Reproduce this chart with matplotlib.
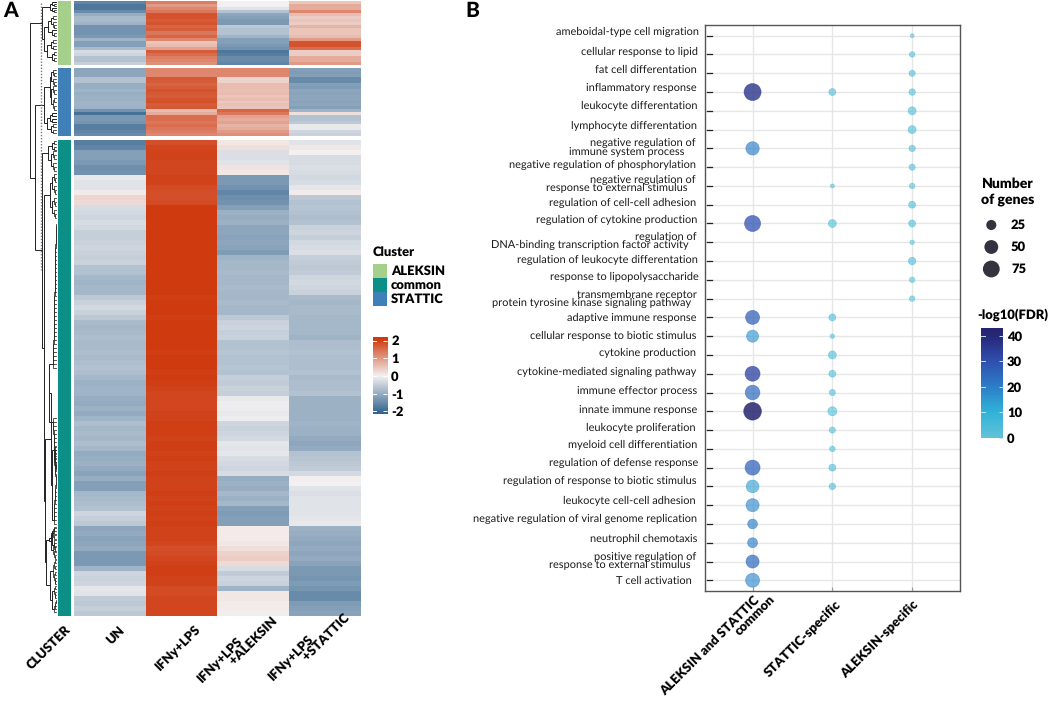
import matplotlib
matplotlib.use("Agg")
import matplotlib.pyplot as plt
import numpy as np
from matplotlib.colors import LinearSegmentedColormap, ListedColormap, to_rgba
from matplotlib.transforms import Affine2D

W, H = 1052, 704
plt.rcParams['font.family'] = ['Lato', 'DejaVu Sans']
plt.rcParams['text.hinting'] = 'no_hinting'
plt.rcParams['text.hinting_factor'] = 1
BOLD = 'heavy'

# ---------- heatmap data (z-scores) ----------
CONDITIONS = ["UN", "IFNy+LPS", "IFNy+LPS\n\u00a0\u00a0\u00a0\u00a0\u00a0\u00a0\u00a0\u00a0\u00a0\u00a0\u00a0\u00a0+ALEKSIN", "IFNy+LPS\n\u00a0\u00a0\u00a0\u00a0\u00a0\u00a0\u00a0\u00a0\u00a0\u00a0\u00a0\u00a0\u00a0+STATTIC"]
CLUSTER_NAMES = ["ALEKSIN", "common", "STATTIC"]
CLUSTER_COLORS = ["#a5d08b", "#0b8f86", "#3f80b8"]

aleksin_un = [-1.6,-1.8,-1.8,-1.5,-1.0,-0.8,-0.8,-0.9,-1.4,-1.4,-1.4,-1.3,-0.9,-1.2,-1.2,-0.8,-0.3,-0.4,-0.7,-0.7,-0.5]
aleksin_lps = [1.3,1.0,1.2,1.4,1.8,1.8,1.7,1.8,1.6,1.7,1.4,1.6,1.2,0.5,0.6,0.9,1.7,1.5,1.3,1.2,1.1]
aleksin_ale = [0.0,0.0,-0.2,-0.7,-1.1,-1.2,-1.3,-1.3,-0.6,-0.7,-0.7,-0.9,-1.2,-1.2,-1.3,-1.4,-1.8,-1.7,-1.5,-1.5,-1.6]
aleksin_sta = [0.5,0.8,0.8,1.2,0.6,0.4,0.5,0.4,0.7,0.5,0.5,0.6,1.0,1.8,1.8,1.5,0.4,0.4,0.8,0.8,1.0]

stattic_un = [-1.1,-1.1,-1.1,-0.7,-0.7,-1.0,-1.0,-0.9,-1.0,-0.95,-0.95,-0.9,-0.9,-0.95,-1.4,-1.9,-1.3,-1.3,-1.35,-1.7,-1.7,-1.6,-1.5]
stattic_lps = [1.2,1.2,1.2,1.75,1.7,1.6,1.7,1.8,1.75,1.7,1.8,1.85,1.7,1.75,0.6,0.8,1.5,1.5,1.4,1.5,1.4,1.3,1.2]
stattic_ale = [1.2,1.2,1.2,0.3,0.35,0.6,0.6,0.55,0.6,0.5,0.6,0.45,0.55,0.5,1.6,1.4,0.9,0.8,0.9,0.7,0.8,1.0,1.1]
stattic_sta = [-1.2,-1.25,-1.2,-1.5,-1.5,-1.2,-1.25,-1.1,-1.15,-1.1,-1.1,-1.15,-1.1,-1.2,-0.9,0.2,-0.7,-0.7,-0.6,-0.1,-0.1,-0.4,-0.45]

common_un = [-1.7,-1.6,-1.2,-1.2,-1.3,-1.45,-1.4,-0.1,-0.2,-0.2,0.05,0.3,0.25,-0.3,-0.35,-0.4,-0.3,-0.35,-0.5,-0.5,
 -0.45,-0.4,-0.45,-0.5,-0.45,-0.7,-0.7,-0.85,-0.9,-0.85,-0.85,-0.6,-0.45,-0.35,-0.45,-0.6,-0.8,-0.85,-0.8,-0.75,
 -0.8,-0.8,-0.75,-0.8,-0.75,-0.7,-0.75,-0.85,-0.95,-0.9,-0.9,-1.0,-1.05,-0.95,-1.05,-0.9,-0.75,-0.85,-0.8,-0.85,
 -0.75,-0.85,-1.05,-1.0,-0.95,-1.05,-1.15,-1.0,-1.2,-1.2,-0.85,-0.8,-0.75,-0.7,-0.4,-0.5,-0.6,-1.1,-1.05,-1.15,
 -1.1,-1.05,-1.3,-1.3,-1.3,-0.9,-0.4,-0.45,-0.4,-0.15,-0.2,-0.55,-0.6,-0.5,-0.6]
common_lps = [1.85,1.95,2.0,2.0,1.95,1.95,1.95,2.0,2.0,1.9,1.85,1.85,1.9,2.1,2.1,2.1,2.1,2.1,2.1,2.1,
 2.1,2.1,2.1,2.1,2.1,2.1,2.1,2.1,2.1,2.1,2.1,2.05,2.1,2.1,2.1,2.05,2.1,2.1,2.1,2.1,
 2.1,2.1,2.05,2.1,2.1,2.1,2.05,2.1,2.05,2.0,1.95,1.95,1.95,1.95,2.0,2.0,2.05,2.05,2.05,2.0,
 2.05,2.05,2.0,2.05,2.0,2.0,2.05,2.0,2.0,2.0,2.05,2.0,2.05,2.0,2.05,2.0,2.05,2.0,2.0,2.0,
 1.95,1.85,1.9,1.95,2.0,2.05,2.05,2.0,2.0,1.9,1.9,1.95,1.95,1.95,1.95]
common_ale = [0.1,0.2,-0.25,-0.25,-0.2,0.15,0.1,-1.3,-1.3,-1.4,-1.6,-1.45,-1.4,-1.2,-0.95,-1.0,-0.95,-1.1,-1.1,-1.15,
 -1.1,-1.15,-1.25,-0.9,-0.85,-0.85,-0.8,-0.85,-0.85,-0.8,-0.85,-0.85,-0.8,-0.85,-0.85,-0.6,-0.45,-0.4,-0.5,-0.45,
 -0.7,-0.7,-0.65,-0.7,-0.7,-0.65,-0.7,-0.5,-0.55,-0.45,-0.5,-0.1,-0.05,-0.05,-0.1,-0.05,-0.4,-0.45,-0.4,-0.35,
 -0.15,-0.2,-0.15,-0.3,-0.35,-0.4,-0.3,-1.0,-0.95,-1.0,-0.85,-0.95,-0.85,-1.2,-1.25,-1.2,-1.2,0.05,0.05,0.05,
 0.1,0.2,0.35,0.4,0.25,-0.3,-0.55,-0.4,-0.45,-0.9,0.1,0.1,0.05,0.05,-0.02]
common_sta = [-0.2,0.1,0.0,-0.3,-0.3,-0.25,-0.3,-0.35,-0.3,-0.15,0.05,-0.6,-0.7,-0.65,-0.7,-0.75,-0.7,-0.45,-0.4,-0.5,
 -0.35,-0.3,-0.25,-0.5,-0.55,-0.6,-0.55,-0.4,-0.35,-0.4,-0.45,-0.8,-0.85,-0.8,-0.8,-0.85,-0.85,-0.85,-0.85,-0.9,
 -0.75,-0.75,-0.7,-0.75,-0.75,-0.75,-0.7,-0.8,-0.75,-0.75,-0.7,-0.95,-0.95,-0.95,-0.95,-0.95,-0.9,-0.95,-0.95,-1.05,
 -1.1,-1.05,-0.7,-0.65,-0.6,-0.55,-0.35,0.03,0.0,-0.2,-0.25,-0.2,-0.2,-0.2,-0.2,-0.15,-0.1,-0.95,-1.0,-1.05,
 -1.1,-1.05,-1.1,-1.05,-1.15,-1.3,-1.3,-1.35,-1.25,-1.35,-1.5,-1.5,-1.25,-1.2,-1.15]

# ---------- dot plot data ----------
TERMS = ["ameboidal-type cell migration", "cellular response to lipid", "fat cell differentation",
 "inflammatory response", "leukocyte differentation", "lymphocyte differentation",
 "negative regulation of\nimmune system process\u00a0\u00a0\u00a0\u00a0", "negative regulation of phosphorylation",
 "negative regulation of\nresponse to external stimulus\u00a0\u00a0\u00a0", "regulation of cell-cell adhesion",
 "regulation of cytokine production", "regulation of\nDNA-binding transcription factor activity\u00a0\u00a0\u00a0",
 "regulation of leukocyte differentation", "response to lipopolysaccharide",
 "transmembrane receptor\nprotein tyrosine kinase signaling pathway\u00a0\u00a0",
 "adaptive immune response", "cellular response to biotic stimulus", "cytokine production",
 "cytokine-mediated signaling pathway", "immune effector process", "innate immune response",
 "leukocyte proliferation", "myeloid cell differentiation", "regulation of defense response",
 "regulation of response to biotic stimulus", "leukocyte cell-cell adhesion",
 "negative regulation of viral genome replication", "neutrophil chemotaxis",
 "positive regulation of\nresponse to external stimulus\u00a0\u00a0", "T cell activation"]
GROUPS = ["ALEKSIN and STATTIC\u00a0\u00a0\u00a0\u00a0\ncommon", "STATTIC-specific", "ALEKSIN-specific"]

# genes per term for each group (None: term absent)
genes_common = [None,None,None,77,None,None,46,None,None,None,68,None,None,None,None,
 51,37,None,59,56,84,None,None,59,41,44,23,24,44,51]
genes_stattic = [None,None,None,10,None,None,None,None,1,None,14,None,None,None,None,
 10,2,14,10,7,19,7,5,10,8,None,None,None,None,None]
genes_aleksin = [1,5,7,8,14,14,8,7,5,10,10,2,12,5,5,
 None,None,None,None,None,None,None,None,None,None,None,None,None,None,None]
fdr_common = [0,0,0,37,0,0,20,0,0,0,30,0,0,0,0,27,16,0,33,25,43,0,0,27,14,18,20,20,25,18]
fdr_stattic = [0,0,0,7,0,0,0,0,5,0,7,0,0,0,0,7,5,7,7,6,7,6,6,7,7,0,0,0,0,0]
fdr_aleksin = [4,5,6,6,7,7,6,6,5,7,7,4,7,5,5,0,0,0,0,0,0,0,0,0,0,0,0,0,0,0]

SIZE_LEGEND = [25, 50, 75]
FDR_TICKS = [0, 10, 20, 30, 40]
Z_TICKS = [-2, -1, 0, 1, 2]

# ---------- helpers ----------
fig = plt.figure(figsize=(W/100, H/100), dpi=100, facecolor='white')

def px_axes(x0, y0, x1, y1, **kw):
    return fig.add_axes([x0/W, 1-y1/H, (x1-x0)/W, (y1-y0)/H], **kw)

def ftext(x, y, s, **kw):
    return fig.text(x/W, 1-y/H, s, **kw)

def shift(label, dx, dy):
    label.set_transform(label.get_transform() + Affine2D().translate(dx, -dy))

zmap = LinearSegmentedColormap.from_list('z', [(0, '#33648f'), (0.5, '#f3f1f1'), (1, '#cf3a0f')])
ZMIN, ZMAX = -2.1, 2.1
fdrmap = LinearSegmentedColormap.from_list('f', [(0, '#62c3d8'), (10/43, '#30b3d8'), (20/43, '#2d7ec8'),
                                                  (30/43, '#2f50b0'), (40/43, '#28287a'), (1, '#25256e')])

# ---------- panel A: heatmap ----------
blocks = [((1, 64.7), 0, [aleksin_un, aleksin_lps, aleksin_ale, aleksin_sta]),
          ((68.3, 136.3), 2, [stattic_un, stattic_lps, stattic_ale, stattic_sta]),
          ((140, 615.7), 1, [common_un, common_lps, common_ale, common_sta])]
clmap = ListedColormap(CLUSTER_COLORS)
for i, ((top, bot), k, cols) in enumerate(blocks):
    ann = px_axes(58, top, 70.7, bot)
    ann.imshow([[k]], cmap=clmap, vmin=0, vmax=2, aspect='auto')
    ax = px_axes(74, top, 360.5, bot)
    m = np.array(cols).T
    ax.imshow(m, cmap=zmap, vmin=ZMIN, vmax=ZMAX, aspect='auto', interpolation='nearest',
              extent=(-0.5, 3.5, m.shape[0]-0.5, -0.5))
    for sp in list(ax.spines.values()) + list(ann.spines.values()):
        sp.set_visible(False)
    ann.set_yticks([]); ax.set_yticks([])
    if i < 2:
        ax.set_xticks([]); ann.set_xticks([])
    else:
        ann.set_xticks([0], ["CLUSTER"])
        ax.set_xticks(range(4), CONDITIONS)
        for a in (ann, ax):
            a.tick_params(axis='x', length=0, pad=0, labelsize=9.6)
        for lab in ann.get_xticklabels() + ax.get_xticklabels():
            lab.set_fontweight(BOLD)
            lab.set_rotation(45)
            lab.set_rotation_mode('anchor')
            lab.set_ha('right'); lab.set_va('top')
        labs = ax.get_xticklabels()
        shift(ann.get_xticklabels()[0], 0, 8)
        shift(labs[0], 8, 8)
        shift(labs[1], 12, 8)
        for lab in labs[2:]:
            lab.set_ha('center'); lab.set_va('center'); lab.set_multialignment('left')
            lab.set_linespacing(0.85)
        shift(labs[2], 237-252.9, 34)
        shift(labs[3], 308-324.5, 32)

# ---------- dendrogram ----------
def bal(h, ys):
    ys = list(ys)
    if len(ys) == 1:
        return ys[0]
    m = len(ys)//2
    return (h, bal(h*0.6, ys[:m]), bal(h*0.6, ys[m:]))

def comb(h, ys):
    ys = list(ys)
    node = ys[0]
    for j, y in enumerate(ys[1:]):
        node = (h*(j+1)/(len(ys)-1), node, y)
    return node

C1 = (14, bal(6, range(2, 14, 2)),
      (12, (8, bal(5, range(16, 30, 3)), bal(4, range(30, 38, 3))),
           (9, bal(5, range(40, 50, 3)), bal(4, range(52, 64, 3)))))
C2 = (12, (6, bal(5, range(70, 86, 3)), bal(5, range(86, 112, 4))),
      (9, bal(6, range(113, 124, 3)), bal(5, range(124, 136, 3))))
N543 = (7, bal(5, range(527, 560, 4)), bal(4, range(528, 556, 6)))
N583 = (6, bal(3, range(560, 586, 3)), (4, bal(2.5, range(586, 601, 3)), comb(2, range(600, 615, 3))))
A = (7, comb(3, range(224, 372, 4)), comb(3, range(470, 416, -4)))
B = (4.5, comb(2.5, range(480, 445, -3)), comb(2.5, range(480, 527, 4)))
N432 = (5, A, B)
N497 = (11, N432, (10, N543, N583))
T1 = (8, bal(4, range(141, 152, 3)), bal(5, range(151, 172, 4)))
T2 = (12.5, bal(6, range(174, 222, 4)), N497)
C3 = (14, T1, T2)
TREE = (26, C1, (21, C2, C3))

dend = px_axes(25, 0, 57, 620)
dend.set_xlim(31, -1)
dend.set_ylim(620, 0)
dend.axis('off')

def draw(node):
    if not isinstance(node, tuple):
        return 0, node
    h, a, b = node
    ha_, ya = draw(a)
    hb_, yb = draw(b)
    dend.plot([ha_, h, h, hb_], [ya, ya, yb, yb], color='#222222', lw=0.7 if h > 3 else 0.55, solid_joinstyle='miter')
    return h, (ya+yb)/2

draw(TREE)
dend.plot([15.5, 15.5], [3, 270], color='#777777', lw=1.0, ls=(0, (1, 1.2)))

# ---------- panel A legends ----------
ftext(373, 252, "Cluster", fontweight=BOLD, fontsize=9.4, va='center')
for i, (name, c) in enumerate(zip(CLUSTER_NAMES, CLUSTER_COLORS)):
    box = px_axes(373, 264+14*i, 387, 278+14*i)
    box.set_facecolor(c); box.set_xticks([]); box.set_yticks([])
    for sp in box.spines.values():
        sp.set_visible(False)
    ftext(391, 271+14*i, name, fontweight=BOLD, fontsize=9.2, va='center')

cb = px_axes(372.7, 337, 387, 414)
zz = np.linspace(2.2, -2.15, 120)[:, None]
cb.imshow(zz, cmap=zmap, vmin=ZMIN, vmax=ZMAX, aspect='auto', extent=(0, 1, -2.15, 2.2))
cb.set_xticks([])
cb.set_yticks(Z_TICKS, [str(t) for t in Z_TICKS])
cb.yaxis.tick_right()
cb.tick_params(axis='y', direction='in', length=3, color='white', width=0.7, pad=3, labelsize=9.2)
for lab in cb.get_yticklabels():
    lab.set_fontweight(BOLD)
for v in Z_TICKS:
    cb.plot([0, 0.2], [v, v], color='white', lw=0.7)
for sp in cb.spines.values():
    sp.set_visible(False)

ftext(3, 11, "A", fontweight='black', fontsize=15, va='center')
ftext(465, 11, "B", fontweight='black', fontsize=15, va='center')

# ---------- panel B: dot plot ----------
ax = px_axes(704.7, 25, 960, 591)
rows = np.arange(len(TERMS))
ax.set_xlim(-0.6, 2.6)
ax.set_ylim(len(TERMS)-1+0.57, -0.57)
ax.set_axisbelow(True)
ax.grid(True, color='#e6e6e6', lw=1.0)

def dsize(n):
    # area grows linearly with gene number; result in points^2 for scatter
    return (12 + 3.6*np.asarray(n, float)) * 0.72**2

norm = plt.Normalize(0, 43)
for x, (g, f) in enumerate(zip([genes_common, genes_stattic, genes_aleksin], [fdr_common, fdr_stattic, fdr_aleksin])):
    idx = [i for i, v in enumerate(g) if v is not None]
    face = [to_rgba(fdrmap(norm(f[i])), 0.5 + 0.35*f[i]/43) for i in idx]
    edge = [to_rgba(fdrmap(norm(f[i])), 0.6) for i in idx]
    ax.scatter([x]*len(idx), idx, s=dsize([g[i] for i in idx]), c=face, edgecolors=edge,
               linewidths=0.5, zorder=3)

ax.set_xticks(range(3), GROUPS)
ax.set_yticks(rows, TERMS)
ax.tick_params(axis='x', direction='in', length=3, color='#999999', pad=0, labelsize=9.6)
ax.tick_params(axis='y', direction='out', length=0, pad=0, labelsize=8.2, labelcolor='#1a1a1a')
for i in rows:
    ax.plot([0.008, 0.03], [i, i], color='#222222', lw=0.9, transform=ax.get_yaxis_transform(), zorder=4)
for sp in ax.spines.values():
    sp.set_color('#555555'); sp.set_linewidth(1.0)

LABEL_RIGHT = [699,698,697,697,697,697,696,696,696,696,697,697,698,699,697,696,696,696,696,697,697,696,697,698,697,696,697,697,696,692]
LABEL_Y = [32,52,70,88,106,126,147,165,184,203,220,241,260,277,299,318,336,353,372,390,409,428,445,463,481,501,519,539,561,581]
for i, lab in enumerate(ax.get_yticklabels()):
    lab.set_va('center'); lab.set_ha('right'); lab.set_multialignment('right'); lab.set_linespacing(0.72)
    shift(lab, LABEL_RIGHT[i]-704.7, LABEL_Y[i]-(35.7+18.78*i))

glabs = ax.get_xticklabels()
for lab in glabs:
    lab.set_fontweight(BOLD); lab.set_rotation(45); lab.set_rotation_mode('anchor')
    lab.set_ha('center'); lab.set_va('center'); lab.set_multialignment('right'); lab.set_linespacing(0.8)
    lab.set_fontsize(9.4)
shift(glabs[0], 717-752.3, 645-591)
shift(glabs[1], 802-832, 639-591)
shift(glabs[2], 879-911.7, 639-591)

# ---------- panel B legends ----------
ftext(981, 184, "Number", fontweight=BOLD, fontsize=9.8, va='center')
ftext(981, 200, "of genes", fontweight=BOLD, fontsize=9.8, va='center')
leg = px_axes(975, 210, 1045, 284)
leg.set_xlim(975, 1045); leg.set_ylim(284, 210); leg.axis('off')
leg.scatter([991.3]*3, [225, 247, 269], s=dsize(SIZE_LEGEND), color='#33333f', linewidths=0)
for y, n in zip([225, 247, 269], SIZE_LEGEND):
    ftext(1011, y, str(n), fontweight=BOLD, fontsize=9.2, va='center')

ftext(977, 315, "-log10(FDR)", fontweight=BOLD, fontsize=9.5, va='center')
cf = px_axes(980.7, 328, 1002.7, 438)
ff = np.linspace(43, 0, 120)[:, None]
cf.imshow(ff, cmap=fdrmap, vmin=0, vmax=43, aspect='auto', extent=(0, 1, 0, 43))
cf.set_xticks([])
cf.set_yticks(FDR_TICKS, [str(t) for t in FDR_TICKS])
cf.yaxis.tick_right()
cf.tick_params(axis='y', direction='in', length=3, color='#bfe3ef', width=0.7, pad=3, labelsize=9.2)
for lab in cf.get_yticklabels():
    lab.set_fontweight(BOLD)
for v in FDR_TICKS:
    cf.plot([0, 0.2], [v, v], color='#bfe3ef', lw=0.7)
for sp in cf.spines.values():
    sp.set_visible(False)

fig.savefig("out.png", dpi=100)
